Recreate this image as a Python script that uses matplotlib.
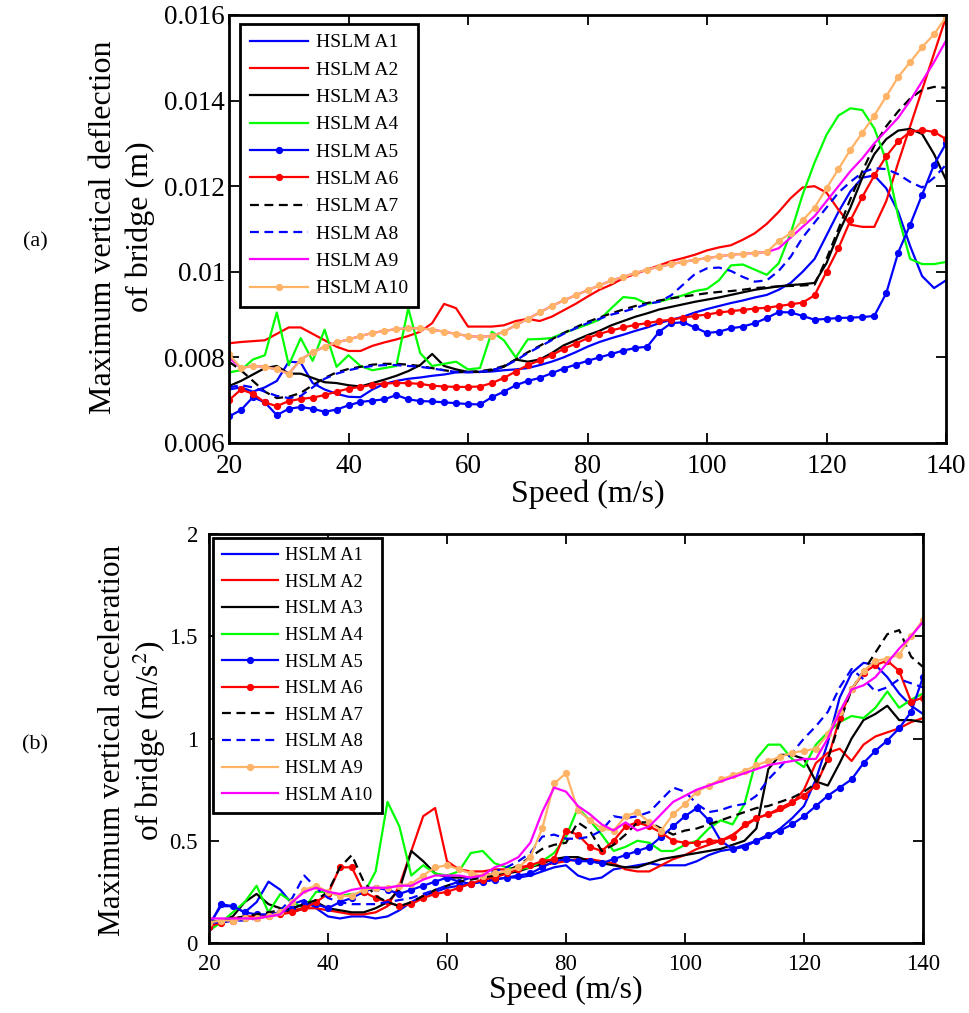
import numpy as np
import matplotlib
matplotlib.use("Agg")
import matplotlib.pyplot as plt
from matplotlib.ticker import FixedLocator, FuncFormatter

plt.rcParams['font.family'] = ['Liberation Serif', 'DejaVu Serif']
plt.rcParams['mathtext.fontset'] = 'stix'

speed = np.arange(20, 141, 2)
labels = ['HSLM A%d' % i for i in range(1, 11)]

# ---------- (a) maximum vertical deflection (x 1e-3 m) ----------
A1_top = [7.25, 7.3, 7.2, 7.3, 7.45, 7.9, 7.88, 7.4, 7.25, 7.15,
          7.08, 7.07, 7.25, 7.38, 7.45, 7.5, 7.53, 7.57, 7.6, 7.65,
          7.66, 7.66, 7.67, 7.7, 7.72, 7.75, 7.82, 7.9, 8.0, 8.12,
          8.25, 8.36, 8.45, 8.53, 8.62, 8.7, 8.8, 8.88, 8.95, 9.05,
          9.13, 9.2, 9.27, 9.33, 9.4, 9.46, 9.58, 9.74, 10.0, 10.3,
          10.85, 11.4, 11.88, 12.2, 12.25, 11.95, 11.4, 10.6, 9.9, 9.62,
          9.8]
A2_top = [8.33, 8.36, 8.38, 8.4, 8.55, 8.7, 8.7, 8.55, 8.4, 8.25,
          8.15, 8.15, 8.27, 8.35, 8.42, 8.5, 8.6, 8.8, 9.25, 9.15,
          8.72, 8.72, 8.72, 8.75, 8.85, 8.9, 8.85, 8.95, 9.1, 9.25,
          9.42, 9.58, 9.7, 9.85, 9.95, 10.05, 10.15, 10.25, 10.32, 10.4,
          10.5, 10.57, 10.62, 10.75, 10.9, 11.12, 11.4, 11.72, 11.97, 12.0,
          11.85, 11.45, 11.1, 11.05, 11.05, 11.65, 12.55, 13.4, 14.25, 15.1,
          15.95]
A3_top = [7.33, 7.45, 7.6, 7.75, 7.8, 7.62, 7.62, 7.52, 7.42, 7.4,
          7.35, 7.32, 7.4, 7.48, 7.57, 7.68, 7.82, 8.08, 7.8, 7.72,
          7.66, 7.66, 7.7, 7.78, 7.95, 7.9, 7.95, 8.1, 8.28, 8.4,
          8.52, 8.62, 8.75, 8.85, 8.95, 9.03, 9.12, 9.18, 9.24, 9.3,
          9.35, 9.4, 9.46, 9.52, 9.58, 9.62, 9.66, 9.69, 9.71, 9.74,
          10.2, 10.9, 11.5, 12.2, 12.75, 13.1, 13.3, 13.34, 13.22, 12.75,
          12.15]
A4_top = [7.65, 7.7, 7.95, 8.05, 9.05, 7.82, 8.45, 7.92, 8.65, 7.78,
          8.05, 7.8, 7.7, 7.75, 7.8, 9.15, 8.1, 7.8, 7.85, 7.9,
          7.72, 7.75, 8.6, 8.4, 8.0, 8.42, 8.43, 8.45, 8.57, 8.67,
          8.77, 8.88, 9.15, 9.41, 9.38, 9.25, 9.3, 9.38, 9.45, 9.55,
          9.6, 9.8, 10.15, 10.17, 10.05, 9.93, 10.2, 10.9, 11.8, 12.55,
          13.2, 13.65, 13.82, 13.78, 13.35, 12.6, 11.3, 10.3, 10.18, 10.18,
          10.23]
A5_top = [6.62, 6.77, 7.07, 6.95, 6.65, 6.8, 6.84, 6.8, 6.73, 6.78,
          6.88, 6.96, 6.99, 7.02, 7.12, 7.02, 6.98, 6.97, 6.95, 6.93,
          6.91, 6.9, 7.07, 7.2, 7.35, 7.45, 7.52, 7.63, 7.74, 7.83,
          7.92, 8.0, 8.08, 8.16, 8.22, 8.25, 8.6, 8.8, 8.82, 8.7,
          8.57, 8.6, 8.68, 8.72, 8.8, 8.92, 9.06, 9.05, 8.97, 8.88,
          8.9, 8.92, 8.93, 8.94, 8.97, 9.5, 10.45, 11.1, 11.8, 12.5,
          13.0]
A6_top = [7.0, 7.25, 7.15, 6.95, 6.86, 6.98, 7.03, 7.06, 7.12, 7.2,
          7.27, 7.31, 7.36, 7.39, 7.4, 7.4, 7.38, 7.34, 7.32, 7.31,
          7.31, 7.32, 7.4, 7.52, 7.67, 7.82, 7.93, 8.05, 8.2, 8.32,
          8.45, 8.55, 8.63, 8.7, 8.76, 8.8, 8.85, 8.88, 8.93, 8.97,
          9.0, 9.05, 9.08, 9.11, 9.14, 9.16, 9.2, 9.24, 9.28, 9.45,
          10.0, 10.55, 11.2, 11.75, 12.25, 12.7, 13.05, 13.27, 13.31, 13.27,
          13.1]
A7_top = [7.9, 7.7, 7.45, 7.2, 7.05, 7.08, 7.17, 7.35, 7.52, 7.65,
          7.73, 7.78, 7.83, 7.85, 7.85, 7.83, 7.8, 7.75, 7.7, 7.66,
          7.66, 7.68, 7.72, 7.8, 7.95, 8.12, 8.27, 8.42, 8.57, 8.7,
          8.83, 8.93, 9.03, 9.12, 9.2, 9.27, 9.33, 9.38, 9.42, 9.46,
          9.5, 9.53, 9.55, 9.58, 9.62, 9.64, 9.66, 9.67, 9.68, 9.7,
          10.3, 11.0, 11.7, 12.35, 12.95, 13.4, 13.75, 14.05, 14.25, 14.32,
          14.3]
A8_top = [7.3, 7.35, 7.3, 7.2, 7.1, 7.05, 7.1, 7.3, 7.5, 7.62,
          7.7, 7.76, 7.8, 7.82, 7.82, 7.8, 7.78, 7.74, 7.7, 7.66,
          7.65, 7.66, 7.7, 7.78, 7.93, 8.1, 8.25, 8.4, 8.55, 8.68,
          8.8, 8.9, 9.0, 9.07, 9.15, 9.25, 9.3, 9.45, 9.7, 9.95,
          10.08, 10.1, 10.02, 9.88, 9.77, 9.8, 10.02, 10.35, 10.8, 11.15,
          11.5, 11.85, 12.1, 12.32, 12.42, 12.4, 12.28, 12.1, 11.97, 12.2,
          12.5]
A9_top = [8.0, 7.75, 7.8, 7.78, 7.72, 7.62, 7.95, 8.12, 8.25, 8.35,
          8.42, 8.5, 8.57, 8.62, 8.66, 8.68, 8.68, 8.65, 8.6, 8.55,
          8.5, 8.48, 8.5, 8.6, 8.75, 8.9, 9.05, 9.2, 9.33, 9.45,
          9.57, 9.68, 9.8, 9.88, 9.97, 10.05, 10.12, 10.18, 10.23, 10.28,
          10.32, 10.36, 10.4, 10.42, 10.44, 10.46, 10.55, 10.8, 11.05, 11.3,
          11.65, 12.0, 12.35, 12.65, 13.0, 13.3, 13.6, 14.0, 14.45, 14.9,
          15.4]
A10_top = [8.07, 7.75, 7.8, 7.78, 7.72, 7.62, 7.95, 8.12, 8.25, 8.35,
           8.42, 8.5, 8.57, 8.62, 8.66, 8.68, 8.68, 8.65, 8.6, 8.55,
           8.5, 8.48, 8.5, 8.6, 8.75, 8.9, 9.05, 9.2, 9.33, 9.45,
           9.57, 9.68, 9.8, 9.88, 9.97, 10.05, 10.12, 10.18, 10.23, 10.28,
           10.32, 10.36, 10.4, 10.42, 10.44, 10.46, 10.72, 10.9, 11.2, 11.5,
           11.95, 12.4, 12.85, 13.25, 13.65, 14.1, 14.55, 14.9, 15.25, 15.55,
           15.95]

# ---------- (b) maximum vertical acceleration (m/s^2) ----------
A1_bot = [0.09, 0.18, 0.18, 0.15, 0.2, 0.3, 0.26, 0.19, 0.21, 0.17,
          0.13, 0.12, 0.13, 0.13, 0.12, 0.13, 0.16, 0.2, 0.23, 0.25,
          0.27, 0.28, 0.29, 0.3, 0.31, 0.32, 0.32, 0.33, 0.35, 0.37,
          0.38, 0.33, 0.31, 0.32, 0.36, 0.37, 0.38, 0.39, 0.38, 0.38,
          0.38, 0.4, 0.43, 0.45, 0.46, 0.48, 0.5, 0.52, 0.56, 0.61,
          0.67, 0.8, 0.98, 1.2, 1.32, 1.37, 1.36, 1.3, 1.22, 1.16,
          1.12]
A2_bot = [0.08, 0.1, 0.12, 0.13, 0.13, 0.14, 0.15, 0.16, 0.17, 0.17,
          0.16, 0.15, 0.14, 0.14, 0.15, 0.18, 0.28, 0.45, 0.62, 0.66,
          0.4, 0.36, 0.35, 0.35, 0.36, 0.36, 0.37, 0.38, 0.38, 0.39,
          0.4, 0.41, 0.41, 0.4, 0.39, 0.36, 0.35, 0.35, 0.38, 0.41,
          0.43, 0.46, 0.48, 0.5, 0.53, 0.57, 0.61, 0.63, 0.65, 0.68,
          0.75, 0.88, 0.93, 0.95, 0.89, 0.97, 1.01, 1.03, 1.05, 1.08,
          1.1]
A3_bot = [0.1, 0.11, 0.13, 0.2, 0.24, 0.19, 0.17, 0.15, 0.17, 0.2,
          0.17, 0.16, 0.15, 0.15, 0.17, 0.2, 0.26, 0.45, 0.4, 0.34,
          0.32, 0.32, 0.32, 0.33, 0.34, 0.34, 0.35, 0.37, 0.39, 0.41,
          0.42, 0.42, 0.4, 0.39, 0.38, 0.37, 0.37, 0.39, 0.41, 0.42,
          0.43, 0.44, 0.45, 0.46, 0.48, 0.5, 0.56, 0.85, 0.92, 0.92,
          0.9, 0.79, 0.77, 0.88, 1.0, 1.09, 1.12, 1.16, 1.09, 1.09,
          1.08]
A4_bot = [0.06, 0.1, 0.15, 0.2, 0.28, 0.15, 0.24, 0.2, 0.17, 0.25,
          0.25, 0.23, 0.24, 0.24, 0.35, 0.69, 0.57, 0.33, 0.38, 0.34,
          0.33, 0.35, 0.44, 0.45, 0.39, 0.37, 0.36, 0.37, 0.4, 0.44,
          0.52, 0.66, 0.6, 0.53, 0.45, 0.47, 0.5, 0.49, 0.45, 0.45,
          0.48, 0.5, 0.56, 0.6, 0.58, 0.68, 0.9, 0.97, 0.97, 0.9,
          0.86, 0.97, 1.03, 1.08, 1.11, 1.1, 1.15, 1.23, 1.15, 1.19,
          1.22]
A5_bot = [0.08, 0.19, 0.18, 0.15, 0.14, 0.14, 0.15, 0.17, 0.19, 0.19,
          0.17, 0.2, 0.22, 0.25, 0.27, 0.26, 0.24, 0.26, 0.28, 0.3,
          0.32, 0.3, 0.29, 0.3, 0.31, 0.32, 0.33, 0.34, 0.37, 0.4,
          0.41, 0.4, 0.4, 0.39, 0.41, 0.43, 0.45, 0.47, 0.52, 0.57,
          0.62, 0.66, 0.6, 0.5, 0.46, 0.47, 0.5, 0.53, 0.55, 0.58,
          0.62, 0.67, 0.72, 0.76, 0.8, 0.88, 0.94, 0.99, 1.05, 1.13,
          1.3]
A6_bot = [0.08, 0.1, 0.11, 0.12, 0.12, 0.13, 0.14, 0.15, 0.17, 0.2,
          0.24, 0.37, 0.37, 0.25, 0.22, 0.2, 0.18, 0.19, 0.22, 0.24,
          0.25, 0.27, 0.29, 0.31, 0.32, 0.34, 0.36, 0.38, 0.4, 0.41,
          0.55, 0.53, 0.47, 0.45, 0.5, 0.57, 0.59, 0.57, 0.54, 0.5,
          0.49, 0.49, 0.5, 0.5, 0.52, 0.58, 0.61, 0.63, 0.66, 0.69,
          0.72, 0.77, 0.9, 1.1, 1.24, 1.32, 1.36, 1.38, 1.33, 1.18,
          1.2]
A7_bot = [0.1, 0.11, 0.12, 0.13, 0.14, 0.15, 0.16, 0.17, 0.19, 0.21,
          0.25, 0.37, 0.43, 0.3, 0.23, 0.2, 0.18, 0.2, 0.23, 0.26,
          0.28, 0.3, 0.31, 0.32, 0.33, 0.35, 0.38, 0.42, 0.46, 0.48,
          0.49, 0.59, 0.55, 0.45, 0.48, 0.53, 0.59, 0.59, 0.56, 0.53,
          0.55, 0.56, 0.58, 0.6, 0.62, 0.64, 0.66, 0.67, 0.69, 0.71,
          0.74, 0.78, 0.9, 1.08, 1.24, 1.33, 1.42, 1.51, 1.53, 1.4,
          1.35]
A8_bot = [0.1, 0.1, 0.11, 0.11, 0.12, 0.13, 0.16, 0.22, 0.33, 0.27,
          0.22, 0.2, 0.19, 0.19, 0.19, 0.2, 0.21, 0.22, 0.24, 0.26,
          0.28, 0.3, 0.32, 0.33, 0.35, 0.37, 0.4, 0.44, 0.52, 0.53,
          0.51, 0.51, 0.52, 0.55, 0.62, 0.61, 0.62, 0.64, 0.7, 0.76,
          0.74, 0.68, 0.64, 0.65, 0.67, 0.68, 0.72, 0.8, 0.86, 0.93,
          1.0, 1.06, 1.13, 1.25, 1.34, 1.29, 1.23, 1.25, 1.29, 1.27,
          1.25]
A9_bot = [0.1, 0.11, 0.11, 0.12, 0.12, 0.13, 0.15, 0.2, 0.26, 0.28,
          0.25, 0.23, 0.23, 0.26, 0.27, 0.27, 0.28, 0.29, 0.33, 0.37,
          0.38, 0.36, 0.34, 0.33, 0.34, 0.35, 0.37, 0.42, 0.56, 0.78,
          0.83, 0.65, 0.6, 0.56, 0.55, 0.62, 0.64, 0.59, 0.55, 0.63,
          0.68, 0.74, 0.77, 0.8, 0.82, 0.84, 0.87, 0.89, 0.91, 0.93,
          0.94, 0.95, 1.02, 1.13, 1.24, 1.33, 1.38, 1.39, 1.41, 1.5,
          1.58]
A10_bot = [0.12, 0.12, 0.12, 0.12, 0.12, 0.13, 0.14, 0.2, 0.25, 0.27,
           0.25, 0.24, 0.26, 0.27, 0.27, 0.27, 0.28, 0.28, 0.31, 0.33,
           0.33, 0.33, 0.32, 0.33, 0.37, 0.39, 0.42, 0.49, 0.64, 0.76,
           0.74, 0.67, 0.63, 0.58, 0.55, 0.59, 0.55, 0.57, 0.63, 0.69,
           0.72, 0.75, 0.77, 0.79, 0.81, 0.83, 0.85, 0.87, 0.88, 0.89,
           0.9, 0.9, 1.0, 1.13, 1.24, 1.26, 1.3, 1.37, 1.44, 1.5,
           1.57]

top_series = [A1_top, A2_top, A3_top, A4_top, A5_top, A6_top, A7_top, A8_top, A9_top, A10_top]
bot_series = [A1_bot, A2_bot, A3_bot, A4_bot, A5_bot, A6_bot, A7_bot, A8_bot, A9_bot, A10_bot]

BLUE, RED, BLACK, GREEN, MAG, ORANGE = '#0000FF', '#FF0000', '#000000', '#00FF00', '#FF00FF', '#FFB366'
top_styles = [(BLUE, '-', None), (RED, '-', None), (BLACK, '-', None), (GREEN, '-', None),
              (BLUE, '-', 'o'), (RED, '-', 'o'), (BLACK, '--', None), (BLUE, '--', None),
              (MAG, '-', None), (ORANGE, '-', 'o')]
bot_styles = top_styles[:8] + [(ORANGE, '-', 'o'), (MAG, '-', None)]

fig = plt.figure(figsize=(9.69, 10.13), dpi=100)
ax1 = fig.add_axes([229/969, 1-443/1013, 717/969, 428/1013])
ax2 = fig.add_axes([209/969, 1-943/1013, 714/969, 409/1013])


def draw(ax, series, styles, scale):
    for vals, (c, ls, mk), lab in zip(series, styles, labels):
        kw = dict(color=c, linestyle=ls, linewidth=1.6, label=lab)
        if ls == '--':
            kw['dashes'] = (4, 2.5)
        if mk:
            kw.update(marker='o', markersize=4.2, markerfacecolor=c, markeredgecolor=c)
        ax.plot(speed, np.array(vals) * scale, **kw)


draw(ax1, top_series, top_styles, 1e-3)
draw(ax2, bot_series, bot_styles, 1.0)

for ax, tsize, xpad, ypad in ((ax1, 19.5, 8, 3), (ax2, 16.5, 8, 8)):
    ax.set_xlim(20, 140)
    ax.xaxis.set_major_locator(FixedLocator([20, 40, 60, 80, 100, 120, 140]))
    ax.tick_params(direction='in', top=True, right=True, length=7, width=1.3,
                   labelsize=tsize)
    ax.tick_params(axis='x', pad=xpad)
    ax.tick_params(axis='y', pad=ypad)
    for sp in ax.spines.values():
        sp.set_linewidth(2.0)
    ax.set_xlabel('Speed (m/s)', fontsize=23, labelpad=0)

ax1.set_ylim(0.006, 0.016)
ax1.yaxis.set_major_locator(FixedLocator([0.006, 0.008, 0.010, 0.012, 0.014, 0.016]))
ax1.yaxis.set_major_formatter(FuncFormatter(lambda v, p: '%g' % round(v, 4)))
ax1.set_ylabel('Maximum vertical deflection\nof bridge (m)', fontsize=23,
               linespacing=1.35)
ax1.yaxis.set_label_coords(-0.103, 0.505)

ax2.set_ylim(0, 2)
ax2.yaxis.set_major_locator(FixedLocator([0, 0.5, 1, 1.5, 2]))
ax2.yaxis.set_major_formatter(FuncFormatter(lambda v, p: '%g' % v))
ax2.set_ylabel('Maximum vertical acceleration\nof bridge (m/s$^2$)', fontsize=22.5,
               linespacing=1.2)
ax2.yaxis.set_label_coords(-0.057, 0.495)

leg_kw = dict(frameon=True, fancybox=False, framealpha=1, edgecolor='black',
              handlelength=3.0, handletextpad=0.4, borderpad=0.5, borderaxespad=0)
l1 = ax1.legend(loc='upper left', bbox_to_anchor=(11/717, 1-9/428), fontsize=14,
                labelspacing=0.5, **leg_kw)
l1.get_frame().set_linewidth(2.0)
l2 = ax2.legend(loc='upper left', bbox_to_anchor=(4/714, 1-4/409), fontsize=13.3,
                labelspacing=0.52, **leg_kw)
l2.get_frame().set_linewidth(2.0)

fig.text(35/969, 1-242/1013, '(a)', fontsize=16, ha='center', va='center')
fig.text(35/969, 1-745/1013, '(b)', fontsize=16, ha='center', va='center')

fig.savefig('out.png', dpi=100)
